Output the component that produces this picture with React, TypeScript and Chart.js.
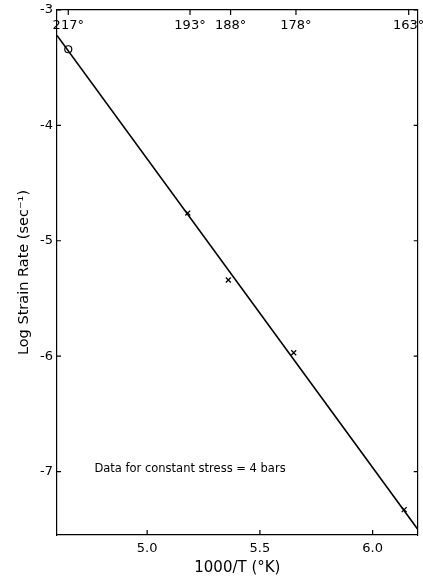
import React, { useEffect, useRef } from "react";
import { Chart, registerables } from "chart.js";

Chart.register(...registerables);

// Fitted line (two end points)
const fitX = [4.6, 6.2];
const fitY = [-3.22, -7.5];

// Open-circle observation
const circleX = [4.65];
const circleY = [-3.34];

// Cross observations
const crossX = [5.18, 5.36, 5.65, 6.14];
const crossY = [-4.76, -5.34, -5.97, -7.33];

// Bottom axis ticks
const xTickValues = [5.0, 5.5, 6.0];
const xTickLabels = ["5.0", "5.5", "6.0"];

// Top axis ticks (temperatures in °K)
const topTickValues = [4.65, 5.19, 5.37, 5.66, 6.16];
const topTickLabels = ["217°", "193°", "188°", "178°", "163°"];

// Left axis ticks
const yTickValues = [-3, -4, -5, -6, -7];
const yTickLabels = ["-3", "-4", "-5", "-6", "-7"];

const xMin = 4.6;
const xMax = 6.2;
const yMin = -7.55;
const yMax = -3;

const xTitle = "1000/T (°K)";
const yTitle = "Log Strain Rate (sec⁻¹)";
const noteText = "Data for constant stress = 4 bars";
const noteX = 5.19;
const noteY = -6.98;

const FONT = "'DejaVu Sans', sans-serif";

const innerTicks = {
  id: "innerTicks",
  afterDraw(chart: any) {
    const ctx = chart.ctx;
    const a = chart.chartArea;
    const sx = chart.scales.x;
    const sy = chart.scales.y;
    ctx.save();
    ctx.strokeStyle = "#000";
    ctx.lineWidth = 1.2;
    ctx.beginPath();
    xTickValues.forEach((v) => {
      const p = sx.getPixelForValue(v);
      ctx.moveTo(p, a.bottom);
      ctx.lineTo(p, a.bottom - 5);
    });
    topTickValues.forEach((v) => {
      const p = sx.getPixelForValue(v);
      ctx.moveTo(p, a.top);
      ctx.lineTo(p, a.top + 5);
    });
    yTickValues.forEach((v) => {
      const p = sy.getPixelForValue(v);
      ctx.moveTo(a.left, p);
      ctx.lineTo(a.left + 4, p);
      ctx.moveTo(a.right, p);
      ctx.lineTo(a.right - 4, p);
    });
    ctx.stroke();
    // annotation
    ctx.fillStyle = "#000";
    ctx.font = "11.5px " + FONT;
    ctx.textAlign = "center";
    ctx.textBaseline = "middle";
    ctx.fillText(noteText, sx.getPixelForValue(noteX), sy.getPixelForValue(noteY));
    ctx.restore();
  },
};

export default function App() {
  const ref = useRef<HTMLCanvasElement | null>(null);

  useEffect(() => {
    document.body.style.margin = "0";
    const canvas = ref.current;
    if (!canvas) return;
    const font = { family: FONT, size: 13 };
    const noPad = (s: any) => {
      s.paddingLeft = 0;
      s.paddingRight = 0;
      s.paddingTop = 0;
      s.paddingBottom = 0;
    };
    const chart = new Chart(canvas, {
      type: "scatter",
      data: {
        datasets: [
          {
            data: fitX.map((x, i) => ({ x, y: fitY[i] })),
            showLine: true,
            borderColor: "#000",
            borderWidth: 1.6,
            pointRadius: 0,
          },
          {
            data: circleX.map((x, i) => ({ x, y: circleY[i] })),
            pointStyle: "circle",
            pointRadius: 3.5,
            backgroundColor: "#fff",
            borderColor: "#000",
            borderWidth: 1.2,
          },
          {
            data: crossX.map((x, i) => ({ x, y: crossY[i] })),
            pointStyle: "crossRot",
            pointRadius: 3.5,
            borderColor: "#000",
            borderWidth: 1.3,
          },
        ],
      },
      options: {
        animation: false,
        responsive: false,
        devicePixelRatio: 1,
        layout: { padding: 0 },
        plugins: { legend: { display: false }, tooltip: { enabled: false } },
        scales: {
          x: {
            type: "linear",
            position: "bottom",
            min: xMin,
            max: xMax,
            afterBuildTicks: (s: any) => {
              s.ticks = xTickValues.map((v) => ({ value: v }));
            },
            afterFit: (s: any) => {
              s.height = 45;
              noPad(s);
            },
            ticks: {
              autoSkip: false,
              maxRotation: 0,
              padding: 6,
              color: "#000",
              font,
              callback: (_v: any, i: number) => xTickLabels[i],
            },
            grid: { drawOnChartArea: false, drawTicks: false },
            border: { display: true, color: "#000", width: 1.2 },
            title: {
              display: true,
              text: xTitle,
              color: "#000",
              font: { family: FONT, size: 15 },
              padding: { top: 0, bottom: 3 },
            },
          },
          x2: {
            type: "linear",
            position: "top",
            min: xMin,
            max: xMax,
            afterBuildTicks: (s: any) => {
              s.ticks = topTickValues.map((v) => ({ value: v }));
            },
            afterFit: (s: any) => {
              s.height = 10;
              noPad(s);
            },
            ticks: {
              autoSkip: false,
              maxRotation: 0,
              mirror: true,
              padding: 8,
              color: "#000",
              font,
              callback: (_v: any, i: number) => topTickLabels[i],
            },
            grid: { drawOnChartArea: false, drawTicks: false },
            border: { display: true, color: "#000", width: 1.2 },
          },
          y: {
            type: "linear",
            position: "left",
            min: yMin,
            max: yMax,
            afterBuildTicks: (s: any) => {
              s.ticks = yTickValues.map((v) => ({ value: v }));
            },
            afterFit: (s: any) => {
              s.width = 57;
              noPad(s);
            },
            ticks: {
              autoSkip: false,
              padding: 4,
              color: "#000",
              font,
              callback: (_v: any, i: number) => yTickLabels[i],
            },
            grid: { drawOnChartArea: false, drawTicks: false },
            border: { display: true, color: "#000", width: 1.2 },
            title: {
              display: true,
              text: yTitle,
              color: "#000",
              font: { family: FONT, size: 14.5 },
              padding: { top: 16, bottom: 0 },
            },
          },
          y2: {
            type: "linear",
            position: "right",
            min: yMin,
            max: yMax,
            afterFit: (s: any) => {
              s.width = 1;
              noPad(s);
            },
            ticks: { display: false },
            grid: { drawOnChartArea: false, drawTicks: false },
            border: { display: true, color: "#000", width: 1.2 },
          },
        },
      },
      plugins: [innerTicks],
    } as any);
    return () => chart.destroy();
  }, []);

  return <canvas ref={ref} width={423} height={580} style={{ display: "block" }} />;
}
